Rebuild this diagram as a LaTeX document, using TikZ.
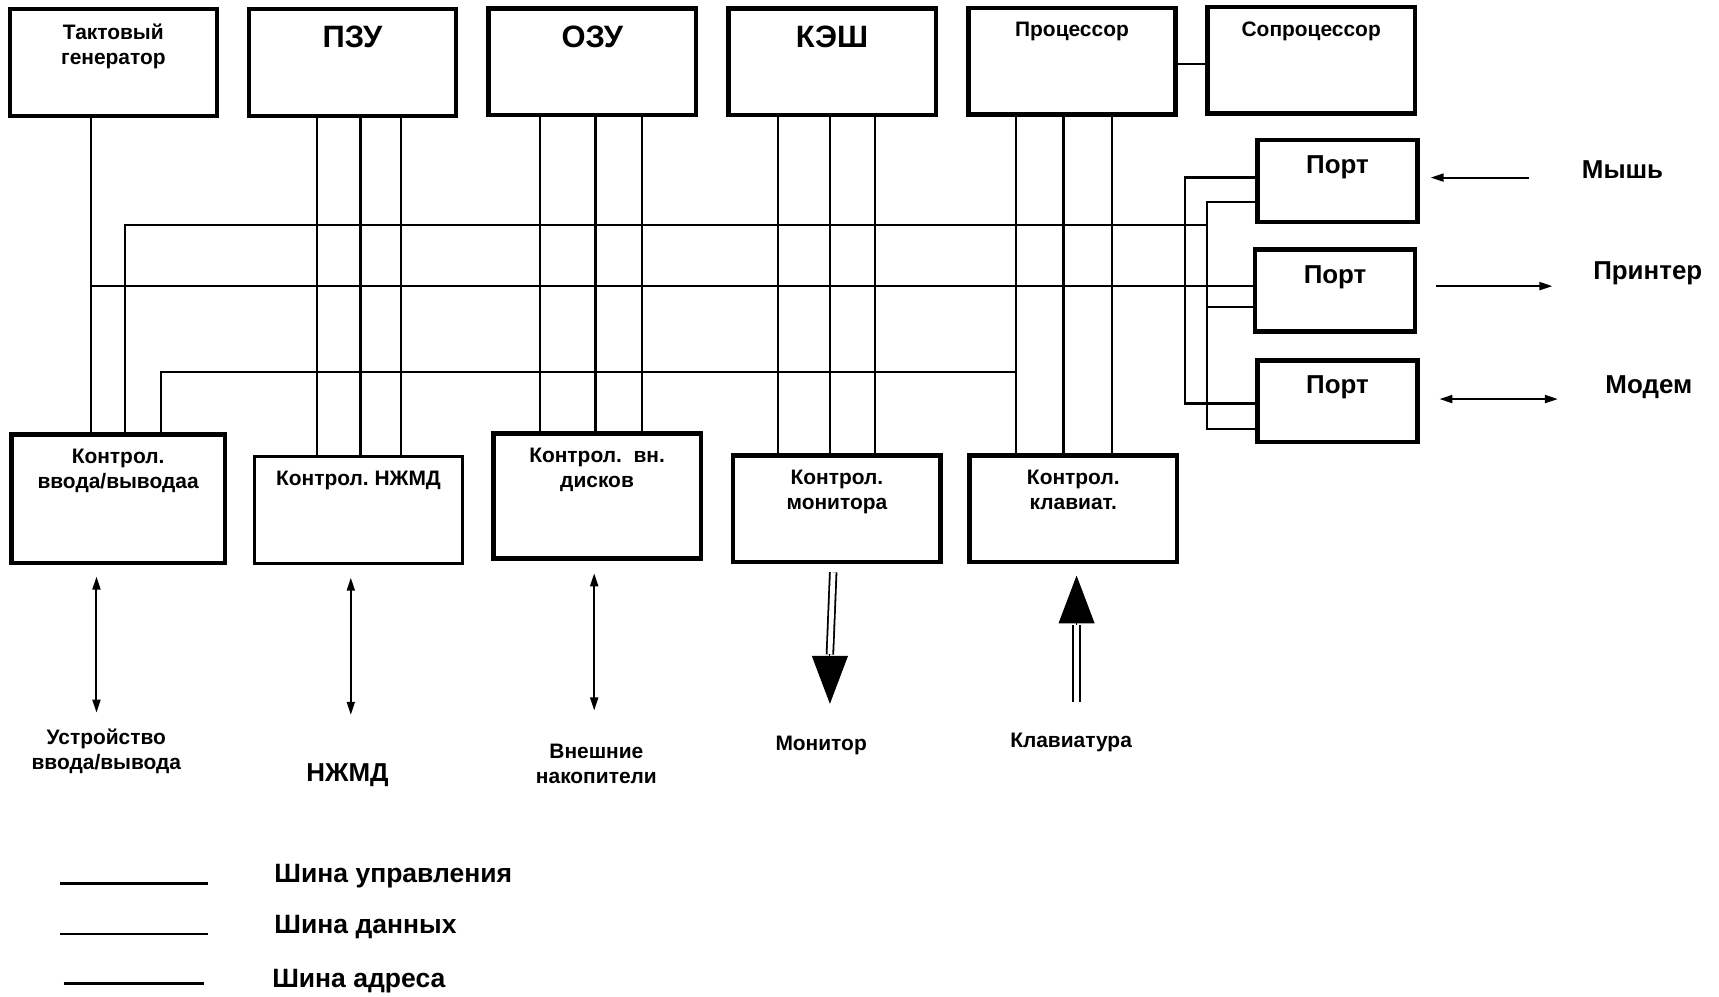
\documentclass[tikz,border=0pt]{standalone}
\usepackage{fontspec}
\setmainfont{Liberation Sans}
\usetikzlibrary{arrows.meta}
\usetikzlibrary{calc}
\frenchspacing

\tikzset{
  blk/.style={draw, line width=2.2pt, minimum width=104pt, minimum height=53.4pt, inner sep=0pt, outer sep=0pt},
  port/.style={blk, minimum width=80.3pt, minimum height=41pt},
  fsmall/.style={font=\fontsize{10.5}{12.8}\selectfont\bfseries, align=center, inner sep=0pt},
  fmid/.style={font=\fontsize{13}{15.5}\selectfont\bfseries, align=center, inner sep=0pt},
  fbig/.style={font=\fontsize{15.5}{18}\selectfont\bfseries, inner sep=0pt},
  fleg/.style={font=\fontsize{13.3}{16}\selectfont\bfseries, inner sep=0pt},
  tsmall/.style={label={[fsmall,anchor=north,yshift=-7pt]north:{#1}}},
  tbig/.style={label={[fbig,anchor=north,yshift=-8.3pt]north:{#1}}},
  tport/.style={label={[fmid,anchor=north,yshift=-7.7pt]north:{#1}}},
  busthin/.style={line width=1pt},
  busthick/.style={line width=1.3pt},
  arr/.style={line width=1pt, -{Triangle[length=6.5pt,width=4pt]}},
  arrs/.style={line width=1pt, {Triangle[length=6.5pt,width=4pt]}-{Triangle[length=6.5pt,width=4pt]}},
  dbl/.style={double, line width=0.9pt, double distance=2.4pt},
  bigtip/.style={line width=0.5pt, -{Triangle[length=24pt,width=18pt]}}
}

\begin{document}
\begin{tikzpicture}[x=0.55pt,y=-0.55pt]
\useasboundingbox (0,0) rectangle (1568,909);
% top row
\node[blk, tsmall={Тактовый\\генератор}] (tg) at (103.4,57) {};
\node[blk, tbig=ПЗУ] (pzu) at (321.5,57) {};
\node[blk, tbig=ОЗУ] (ozu) at (540.3,56.3) {};
\node[blk, tbig=КЭШ] (kesh) at (759,56.3) {};
\node[blk, tsmall=Процессор] (cpu) at (977.8,56) {};
\node[blk, tsmall=Сопроцессор] (fpu) at (1196,55) {};
% ports
\node[port, tport=Порт] (p1) at (1220,165) {};
\node[port, tport=Порт] (p2) at (1217.8,265) {};
\node[port, tport=Порт] (p3) at (1220,366) {};
% controllers
\node[blk, minimum width=107pt, minimum height=64.6pt, tsmall={Контрол.\\ввода/выводаа}] (cio) at (107.7,455) {};
\node[blk, line width=1.6pt, tsmall={Контрол. НЖМД}] (chdd) at (327,465.2) {};
\node[blk, minimum width=104pt, minimum height=62.7pt, tsmall={Контрол.~~вн.\\дисков}] (cdisk) at (544.6,452.3) {};
\node[blk, tsmall={Контрол.\\монитора}] (cmon) at (763.4,464.1) {};
\node[blk, tsmall={Контрол.\\клавиат.}] (ckbd) at (979,464.1) {};
% buses from memory and cpu down to controllers
\foreach \a/\b/\x/\s in {pzu/chdd/289/busthin, pzu/chdd/329/busthick, pzu/chdd/366/busthin,
  ozu/cdisk/493/busthin, ozu/cdisk/543/busthick, ozu/cdisk/586/busthin,
  kesh/cmon/710/busthin, kesh/cmon/757/busthick, kesh/cmon/798/busthin,
  cpu/ckbd/927/busthin, cpu/ckbd/970/busthick, cpu/ckbd/1014/busthin}
  \draw[\s] (\a.south -| \x,0) -- (\b.north -| \x,0);
% generator line and horizontal buses
\coordinate (clk) at (82.7,261);
\draw[busthin] (tg.south -| 82.7,0) -- (cio.north -| 82.7,0);
\draw[busthick] (clk) -- (p2.west |- clk);
\draw[busthin] (cio.north -| 114,0) |- (1101,205);
\draw[busthin] (cio.north -| 147,0) |- (927,339);
\draw[busthin] (cpu.east |- 0,58) -- (fpu.west |- 0,58);
% lines to the ports
\draw[busthick] (p1.west |- 0,162) -| (1081,368) -- (p3.west |- 0,368);
\draw[busthin] (p1.west |- 0,184) -| (1101,391) -- (p3.west |- 0,391);
\draw[busthin] (1101,280) -- (p2.west |- 0,280);
% peripherals
\node[fmid] (mouse) at (1480,155) {Мышь};
\node[fmid] (prn) at (1503,249) {Принтер};
\node[fmid] (modem) at (1504,353) {Модем};
\coordinate (ms) at (1395,162);
\coordinate (me) at (1305,162);
\coordinate (ps) at (1310,261);
\coordinate (pe) at (1416,261);
\coordinate (ds) at (1313,364);
\coordinate (de) at (1421,364);
\draw[arr] (ms) -- (me);
\draw[arr] (ps) -- (pe);
\draw[arrs] (ds) -- (de);
% devices below the controllers
\node[fsmall] (dio) at (97,685.5) {Устройство\\ввода/вывода};
\node[fmid] (dhdd) at (317,707) {НЖМД};
\node[fsmall] (ddisk) at (544,697) {Внешние\\накопители};
\node[fsmall] (dmon) at (749,680) {Монитор};
\node[fsmall] (dkbd) at (977,677) {Клавиатура};
\coordinate (io1) at (88,526);
\coordinate (io2) at (88,650);
\coordinate (hd1) at (320,527);
\coordinate (hd2) at (320,652);
\coordinate (dk1) at (542,523);
\coordinate (dk2) at (542,648);
\draw[arrs] (io1) -- (io2);
\draw[arrs] (hd1) -- (hd2);
\draw[arrs] (dk1) -- (dk2);
% monitor and keyboard arrows
\coordinate (mn1) at (760,522);
\coordinate (mn2) at (757,597);
\coordinate (mn3) at (757,642);
\draw[dbl] (mn1) -- (mn2);
\draw[bigtip] (mn2) -- (mn3);
\coordinate (kb1) at (982,640);
\coordinate (kb2) at (982,570);
\coordinate (kb3) at (982,525);
\draw[dbl] (kb1) -- (kb2);
\draw[bigtip] (kb2) -- (kb3);
% legend
\draw[line width=1.6pt] (55,806) -- (190,806);
\draw[line width=1.2pt] (55,852) -- (190,852);
\draw[line width=1.4pt] (58,897) -- (186,897);
\node[fleg, anchor=west] (lctl) at (250,799) {Шина управления};
\node[fleg, anchor=west] (ldat) at (250,846) {Шина данных};
\node[fleg, anchor=west] (ladr) at (248,895) {Шина адреса};
\end{tikzpicture}
\end{document}
